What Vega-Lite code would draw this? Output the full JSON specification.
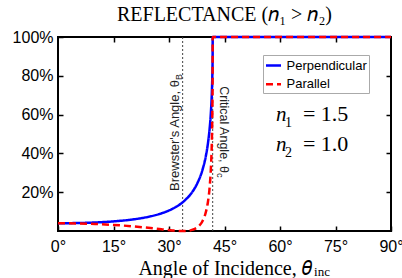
{
  "$schema": "https://vega.github.io/schema/vega-lite/v6.json",
  "width": 333,
  "height": 194,
  "autosize": {"type": "none"},
  "padding": {"left": 58, "top": 37, "right": 11, "bottom": 47},
  "background": "white",
  "title": {"text": "REFLECTANCE (𝑛₁ > 𝑛₂)", "font": "Liberation Serif", "fontSize": 20, "fontWeight": "normal", "color": "black", "offset": 4},
  "config": {
    "view": {"stroke": "black", "strokeWidth": 2},
    "axis": {"grid": false, "domain": false, "labelFlush": false, "tickColor": "black", "tickWidth": 1.5, "labelFont": "Liberation Sans", "labelFontSize": 16, "labelColor": "black", "titleFont": "Liberation Serif", "titleFontSize": 20, "titleFontWeight": "normal", "titleColor": "black"},
    "legend": {"orient": "none", "legendX": 205, "legendY": 18, "strokeColor": "#aaaaaa", "fillColor": "white", "padding": 1.5, "symbolType": "stroke", "symbolSize": 225, "symbolStrokeWidth": 2.5, "labelFont": "Liberation Sans", "labelFontSize": 13, "labelColor": "black", "labelOffset": 4, "rowPadding": 2.7, "cornerRadius": 0}
  },
  "datasets": {
    "curves": [
      {"angle": 0, "R": 0.04, "pol": "Perpendicular"},
      {"angle": 5, "R": 0.0409, "pol": "Perpendicular"},
      {"angle": 10, "R": 0.0439, "pol": "Perpendicular"},
      {"angle": 15, "R": 0.0495, "pol": "Perpendicular"},
      {"angle": 20, "R": 0.0591, "pol": "Perpendicular"},
      {"angle": 25, "R": 0.0755, "pol": "Perpendicular"},
      {"angle": 28, "R": 0.0912, "pol": "Perpendicular"},
      {"angle": 30, "R": 0.1058, "pol": "Perpendicular"},
      {"angle": 31, "R": 0.1148, "pol": "Perpendicular"},
      {"angle": 32, "R": 0.1254, "pol": "Perpendicular"},
      {"angle": 33.69, "R": 0.1479, "pol": "Perpendicular"},
      {"angle": 34, "R": 0.1529, "pol": "Perpendicular"},
      {"angle": 35, "R": 0.1711, "pol": "Perpendicular"},
      {"angle": 36, "R": 0.1937, "pol": "Perpendicular"},
      {"angle": 37, "R": 0.2223, "pol": "Perpendicular"},
      {"angle": 38, "R": 0.2601, "pol": "Perpendicular"},
      {"angle": 39, "R": 0.3122, "pol": "Perpendicular"},
      {"angle": 40, "R": 0.3905, "pol": "Perpendicular"},
      {"angle": 40.5, "R": 0.4482, "pol": "Perpendicular"},
      {"angle": 41, "R": 0.531, "pol": "Perpendicular"},
      {"angle": 41.3, "R": 0.6045, "pol": "Perpendicular"},
      {"angle": 41.6, "R": 0.7235, "pol": "Perpendicular"},
      {"angle": 41.7, "R": 0.7909, "pol": "Perpendicular"},
      {"angle": 41.75, "R": 0.8408, "pol": "Perpendicular"},
      {"angle": 41.79, "R": 0.9043, "pol": "Perpendicular"},
      {"angle": 41.81, "R": 1, "pol": "Perpendicular"},
      {"angle": 45, "R": 1, "pol": "Perpendicular"},
      {"angle": 60, "R": 1, "pol": "Perpendicular"},
      {"angle": 75, "R": 1, "pol": "Perpendicular"},
      {"angle": 90, "R": 1, "pol": "Perpendicular"},
      {"angle": 0, "R": 0.04, "pol": "Parallel"},
      {"angle": 5, "R": 0.0391, "pol": "Parallel"},
      {"angle": 10, "R": 0.0363, "pol": "Parallel"},
      {"angle": 15, "R": 0.0314, "pol": "Parallel"},
      {"angle": 20, "R": 0.0244, "pol": "Parallel"},
      {"angle": 25, "R": 0.0151, "pol": "Parallel"},
      {"angle": 28, "R": 0.0087, "pol": "Parallel"},
      {"angle": 30, "R": 0.0046, "pol": "Parallel"},
      {"angle": 31, "R": 0.0028, "pol": "Parallel"},
      {"angle": 32, "R": 0.0012, "pol": "Parallel"},
      {"angle": 33.69, "R": 0, "pol": "Parallel"},
      {"angle": 34, "R": 0.0001, "pol": "Parallel"},
      {"angle": 35, "R": 0.0012, "pol": "Parallel"},
      {"angle": 36, "R": 0.0045, "pol": "Parallel"},
      {"angle": 37, "R": 0.0113, "pol": "Parallel"},
      {"angle": 38, "R": 0.0243, "pol": "Parallel"},
      {"angle": 39, "R": 0.0492, "pol": "Parallel"},
      {"angle": 40, "R": 0.1001, "pol": "Parallel"},
      {"angle": 40.5, "R": 0.1472, "pol": "Parallel"},
      {"angle": 41, "R": 0.2285, "pol": "Parallel"},
      {"angle": 41.3, "R": 0.3142, "pol": "Parallel"},
      {"angle": 41.6, "R": 0.4795, "pol": "Parallel"},
      {"angle": 41.7, "R": 0.5885, "pol": "Parallel"},
      {"angle": 41.75, "R": 0.6762, "pol": "Parallel"},
      {"angle": 41.79, "R": 0.7974, "pol": "Parallel"},
      {"angle": 41.81, "R": 1, "pol": "Parallel"},
      {"angle": 45, "R": 1, "pol": "Parallel"},
      {"angle": 60, "R": 1, "pol": "Parallel"},
      {"angle": 75, "R": 1, "pol": "Parallel"},
      {"angle": 90, "R": 1, "pol": "Parallel"}
    ],
    "lines": [
      {"a": 33.69, "r": 0.778, "t": "Brewster's Angle, θ", "s": "B"},
      {"a": 41.81, "r": 0.299, "t": "Critical Angle, θ", "s": "c"}
    ],
    "indices": [
      {"a": 58.9, "r": 0.567, "n": "n", "sub": "1", "rest": "= 1.5"},
      {"a": 58.9, "r": 0.412, "n": "n", "sub": "2", "rest": "= 1.0"}
    ],
    "xsub": [{"a": 69.2, "r": -0.232, "t": "inc"}]
  },
  "resolve": {"axis": {"x": "independent", "y": "independent"}},
  "layer": [
    {
      "data": {"name": "lines"},
      "mark": {"type": "rule", "color": "#444444", "strokeWidth": 1, "strokeDash": [2, 2]},
      "encoding": {
        "x": {"field": "a", "type": "quantitative", "scale": {"domain": [0, 90], "nice": false}, "axis": {"orient": "top", "values": [15, 30, 45, 60, 75], "labels": false, "title": null, "tickSize": -5}}
      }
    },
    {
      "data": {"name": "curves"},
      "transform": [{"filter": "datum.pol === 'Perpendicular'"}],
      "mark": {"type": "line", "strokeWidth": 2.5, "interpolate": "monotone"},
      "encoding": {
        "x": {"field": "angle", "type": "quantitative", "scale": {"domain": [0, 90], "nice": false}, "axis": {"orient": "bottom", "values": [0, 15, 30, 45, 60, 75, 90], "labelExpr": "datum.value + '°'", "tickSize": -5, "labelPadding": 12, "title": "Angle of Incidence, 𝜃", "titlePadding": 4}},
        "y": {"field": "R", "type": "quantitative", "scale": {"domain": [0, 1], "nice": false}, "axis": {"orient": "left", "values": [0.2, 0.4, 0.6, 0.8, 1], "format": ".0%", "tickSize": -5, "labelPadding": 10, "title": null}},
        "color": {"field": "pol", "type": "nominal", "title": null, "scale": {"domain": ["Perpendicular", "Parallel"], "range": ["#0000ff", "#ff0000"]}},
        "strokeDash": {"field": "pol", "type": "nominal", "title": null, "scale": {"domain": ["Perpendicular", "Parallel"], "range": [[1, 0], [7, 4]]}}
      }
    },
    {
      "data": {"name": "curves"},
      "transform": [{"filter": "datum.pol === 'Parallel'"}],
      "mark": {"type": "line", "strokeWidth": 2.5, "interpolate": "monotone"},
      "encoding": {
        "x": {"field": "angle", "type": "quantitative", "axis": null},
        "y": {"field": "R", "type": "quantitative", "axis": {"orient": "right", "values": [0.2, 0.4, 0.6, 0.8], "labels": false, "title": null, "tickSize": -5}},
        "color": {"field": "pol", "type": "nominal", "title": null},
        "strokeDash": {"field": "pol", "type": "nominal", "title": null}
      }
    },
    {
      "data": {"name": "lines"},
      "transform": [{"filter": "datum.s === 'B'"}],
      "mark": {"type": "text", "angle": 270, "align": "right", "baseline": "alphabetic", "dy": -4, "font": "Liberation Sans", "fontSize": 13, "color": "#222222"},
      "encoding": {"x": {"field": "a", "type": "quantitative", "axis": null}, "y": {"field": "r", "type": "quantitative", "axis": null}, "text": {"field": "t"}}
    },
    {
      "data": {"name": "lines"},
      "transform": [{"filter": "datum.s === 'B'"}],
      "mark": {"type": "text", "angle": 270, "align": "left", "baseline": "alphabetic", "dy": -1, "font": "Liberation Sans", "fontSize": 9, "color": "#222222"},
      "encoding": {"x": {"field": "a", "type": "quantitative", "axis": null}, "y": {"field": "r", "type": "quantitative", "axis": null}, "text": {"field": "s"}}
    },
    {
      "data": {"name": "lines"},
      "transform": [{"filter": "datum.s === 'c'"}],
      "mark": {"type": "text", "angle": 90, "align": "right", "baseline": "alphabetic", "dy": -7, "font": "Liberation Sans", "fontSize": 12.5, "color": "#222222"},
      "encoding": {"x": {"field": "a", "type": "quantitative", "axis": null}, "y": {"field": "r", "type": "quantitative", "axis": null}, "text": {"field": "t"}}
    },
    {
      "data": {"name": "lines"},
      "transform": [{"filter": "datum.s === 'c'"}],
      "mark": {"type": "text", "angle": 90, "align": "left", "baseline": "alphabetic", "dy": -4, "font": "Liberation Sans", "fontSize": 9, "color": "#222222"},
      "encoding": {"x": {"field": "a", "type": "quantitative", "axis": null}, "y": {"field": "r", "type": "quantitative", "axis": null}, "text": {"field": "s"}}
    },
    {
      "data": {"name": "indices"},
      "mark": {"type": "text", "align": "left", "baseline": "alphabetic", "font": "Liberation Serif", "fontStyle": "italic", "fontSize": 21, "color": "black"},
      "encoding": {"x": {"field": "a", "type": "quantitative", "axis": null}, "y": {"field": "r", "type": "quantitative", "axis": null}, "text": {"field": "n"}}
    },
    {
      "data": {"name": "indices"},
      "mark": {"type": "text", "align": "left", "baseline": "alphabetic", "dx": 9, "dy": 6, "font": "Liberation Serif", "fontSize": 14, "color": "black"},
      "encoding": {"x": {"field": "a", "type": "quantitative", "axis": null}, "y": {"field": "r", "type": "quantitative", "axis": null}, "text": {"field": "sub"}}
    },
    {
      "data": {"name": "indices"},
      "mark": {"type": "text", "align": "left", "baseline": "alphabetic", "dx": 27, "font": "Liberation Serif", "fontSize": 22, "color": "black"},
      "encoding": {"x": {"field": "a", "type": "quantitative", "axis": null}, "y": {"field": "r", "type": "quantitative", "axis": null}, "text": {"field": "rest"}}
    },
    {
      "data": {"name": "xsub"},
      "mark": {"type": "text", "align": "left", "baseline": "alphabetic", "font": "Liberation Serif", "fontSize": 13, "color": "black"},
      "encoding": {"x": {"field": "a", "type": "quantitative", "axis": null}, "y": {"field": "r", "type": "quantitative", "axis": null}, "text": {"field": "t"}}
    }
  ]
}
